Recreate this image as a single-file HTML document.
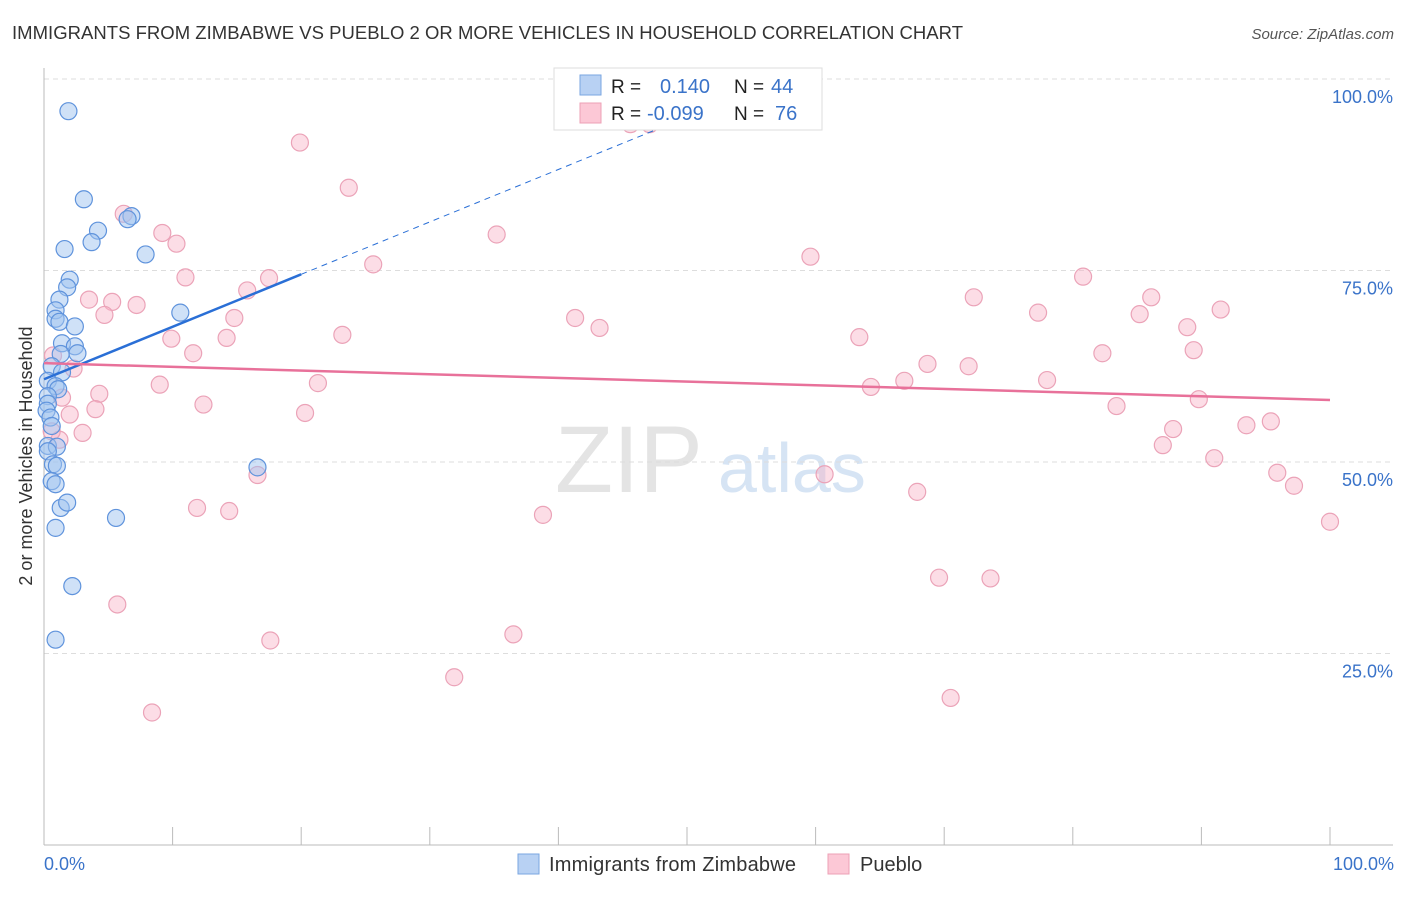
<!DOCTYPE html>
<html><head><meta charset="utf-8"><style>
body{margin:0;background:#fff;font-family:"Liberation Sans",sans-serif;}
svg text{font-family:"Liberation Sans",sans-serif;}
</style></head><body>
<svg id="c" width="1406" height="892">
<text x="12" y="39" font-size="18.5" fill="#333" textLength="951">IMMIGRANTS FROM ZIMBABWE VS PUEBLO 2 OR MORE VEHICLES IN HOUSEHOLD CORRELATION CHART</text>
<text x="1394" y="39" font-size="15" fill="#555" font-style="italic" text-anchor="end">Source: ZipAtlas.com</text>
<text x="32" y="456" font-size="18" fill="#333" text-anchor="middle" transform="rotate(-90 32 456)">2 or more Vehicles in Household</text>
<text x="555" y="492" font-size="95" fill="#e4e4e4" font-family="Liberation Serif">ZIP</text>
<text x="718" y="492" font-size="70" fill="#d6e4f4">atlas</text>
<g id="grid"></g><g id="pts"></g><g id="lines"></g>
<g>
<rect x="554" y="68" width="268" height="62" fill="#fff" stroke="#ddd"/>
<rect x="580" y="75" width="21" height="20" fill="#b8d1f3" stroke="#7aa6e0"/>
<rect x="580" y="103" width="21" height="20" fill="#fcc8d6" stroke="#eda0b6"/>
<text x="611" y="93" font-size="19" fill="#222">R = </text><text x="660" y="93" font-size="20" fill="#3a73c9">0.140</text>
<text x="734" y="93" font-size="19" fill="#222">N = </text><text x="771" y="93" font-size="20" fill="#3a73c9">44</text>
<text x="611" y="120" font-size="19" fill="#222">R = </text><text x="647" y="120" font-size="20" fill="#3a73c9">-0.099</text>
<text x="734" y="120" font-size="19" fill="#222">N = </text><text x="775" y="120" font-size="20" fill="#3a73c9">76</text>
</g>
<g>
<rect x="518" y="854" width="21" height="20" fill="#b8d1f3" stroke="#7aa6e0"/>
<text x="549" y="871" font-size="20" fill="#333" textLength="247">Immigrants from Zimbabwe</text>
<rect x="828" y="854" width="21" height="20" fill="#fcc8d6" stroke="#eda0b6"/>
<text x="860" y="871" font-size="20" fill="#333">Pueblo</text>
</g>
<text x="44" y="870" font-size="18" fill="#3a73c9">0.0%</text>
<text x="1394" y="870" font-size="18" fill="#3a73c9" text-anchor="end">100.0%</text>
</svg>
<script>
const yTicks=[100,75,50,25];
const yTickLabels=["100.0%","75.0%","50.0%","25.0%"];
const xTicks=[0,10,20,30,40,50,60,70,80,90,100];
const blueX=[1.9,3.1,6.8,6.5,4.2,3.7,1.6,7.9,2.0,1.8,1.2,0.9,0.9,1.2,2.4,10.6,1.4,2.4,2.6,1.3,0.6,1.4,0.3,0.9,1.1,0.3,0.3,0.2,0.5,0.6,0.3,1.0,0.3,0.7,1.0,0.6,0.9,16.6,1.3,1.8,0.9,5.6,2.2,0.9];
const blueY=[95.8,84.3,82.1,81.7,80.2,78.7,77.8,77.1,73.8,72.8,71.2,69.8,68.7,68.3,67.7,69.5,65.5,65.1,64.2,64.1,62.5,61.7,60.6,59.9,59.5,58.6,57.6,56.7,55.8,54.7,52.1,52.0,51.4,49.7,49.5,47.5,47.1,49.3,44.0,44.7,41.4,42.7,33.8,26.8];
const pinkX=[6.2,19.9,23.7,9.2,10.3,35.2,59.6,25.6,11.0,17.5,15.8,3.5,5.3,7.2,4.7,14.8,72.3,80.8,86.1,91.5,77.3,85.2,88.9,41.3,43.2,23.2,9.9,14.2,63.4,11.6,82.3,89.4,0.7,2.3,68.7,71.9,21.3,9.0,64.3,66.9,78.0,4.3,1.4,12.4,4.0,20.3,89.8,83.4,2.0,87.8,95.4,3.0,1.2,93.5,87.0,91.0,16.6,60.7,95.9,97.2,67.9,11.9,14.4,38.8,100,5.7,17.6,36.5,69.6,73.6,31.9,8.4,70.5,45.6,47.1,0.6];
const pinkY=[82.4,91.7,85.8,79.9,78.5,79.7,76.8,75.8,74.1,74.0,72.4,71.2,70.9,70.5,69.2,68.8,71.5,74.2,71.5,69.9,69.5,69.3,67.6,68.8,67.5,66.6,66.1,66.2,66.3,64.2,64.2,64.6,63.9,62.2,62.8,62.5,60.3,60.1,59.8,60.6,60.7,58.9,58.4,57.5,56.9,56.4,58.2,57.3,56.2,54.3,55.3,53.8,52.9,54.8,52.2,50.5,48.3,48.4,48.6,46.9,46.1,44.0,43.6,43.1,42.2,31.4,26.7,27.5,34.9,34.8,21.9,17.3,19.2,94.1,94.1,54.0];
const L=44,R=1330,T=79,B=845;
const sx=v=>L+(R-L)*v/100, sy=v=>B-(B-T)*v/100;
const NS="http://www.w3.org/2000/svg";
function mk(tag,attrs,parent){const e=document.createElementNS(NS,tag);for(const k in attrs)e.setAttribute(k,attrs[k]);parent.appendChild(e);return e;}
const grid=document.getElementById('grid');
yTicks.forEach((t,i)=>{
 const g=mk('line',{x1:L,x2:1393,y1:sy(t),y2:sy(t),stroke:'#ddd','stroke-dasharray':'5,4'},grid);
 
 
 const tx=mk('text',{x:1393,y:sy(t)+24,'font-size':18,fill:'#3a73c9','text-anchor':'end'},grid);
 tx.textContent=yTickLabels[i];
 
 
});
const ax=mk('line',{x1:L,x2:L,y1:68,y2:B,stroke:'#bbb'},grid);


const xa=mk('line',{x1:L,x2:1393,y1:B,y2:B,stroke:'#bbb'},grid);


xTicks.forEach(t=>{
 const tk=mk('line',{x1:sx(t),x2:sx(t),y1:B-18,y2:B,stroke:'#bbb'},grid);
 
 
});
const pts=document.getElementById('pts');
pinkX.forEach((x,i)=>{
 const c=mk('circle',{cx:sx(x),cy:sy(pinkY[i]),r:8.5,fill:'rgba(248,180,200,0.45)',stroke:'#eba3b8','stroke-width':1.2},pts);
 
 
});
blueX.forEach((x,i)=>{
 const c=mk('circle',{cx:sx(x),cy:sy(blueY[i]),r:8.5,fill:'rgba(160,195,240,0.5)',stroke:'#5f93dc','stroke-width':1.2},pts);
 
 
});
const lines=document.getElementById('lines');
const bl=mk('line',{x1:sx(0),y1:sy(60.8),x2:sx(20),y2:sy(74.5),stroke:'#2a6fd6','stroke-width':2.5},lines);


const bd=mk('line',{x1:sx(20),y1:sy(74.5),x2:sx(52),y2:sy(96.4),stroke:'#2a6fd6','stroke-width':1,'stroke-dasharray':'6,5'},lines);


const pl=mk('line',{x1:sx(0),y1:sy(62.9),x2:sx(100),y2:sy(58.1),stroke:'#e8719a','stroke-width':2.5},lines);


</script>
</body></html>
